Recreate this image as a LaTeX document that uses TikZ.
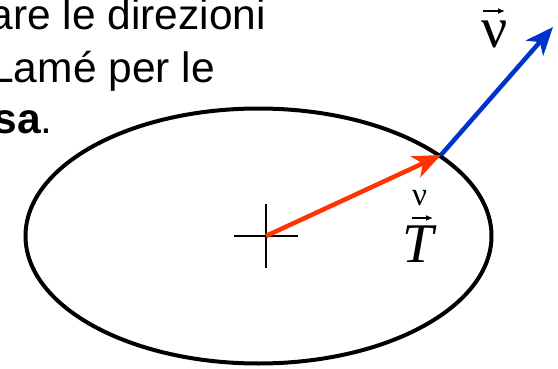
\RequirePackage{fix-cm}
\documentclass[tikz,border=0pt]{standalone}
\usepackage{fontspec}
\setmainfont{Liberation Sans}
\newfontfamily\tms{Liberation Serif}
\usetikzlibrary{arrows.meta}
\definecolor{tracred}{HTML}{FF3300}
\definecolor{normblue}{HTML}{0033CC}
\tikzset{
	vecarrow/.style = {line width=4.5pt, -{Stealth[length=28pt,width=23pt,inset=8pt]}},
	heading/.style = {anchor=base east, inner sep=0pt, font=\fontsize{42.5}{51}\selectfont},
	lbl/.style = {anchor=base, inner sep=0pt},
	accent/.style = {line width=1.4pt, -{Latex[length=7pt,width=6pt]}}
}
\begin{document}
\begin{tikzpicture}[x=1pt,y=1pt]
	\useasboundingbox (0,0) rectangle (558,368);
	\clip (0,0) rectangle (558,368);
	\node [heading] (line1) at (266,338) {are le direzioni};
	\node [heading] (line2) at (215,286) {Lamé per le};
	\node [heading] (line3) at (53,235) {\textbf{sa}.};
	\draw [line width=4pt] (258.5,132) ellipse [x radius=233, y radius=127.5];
	\coordinate (O) at (266,132);
	\coordinate (P) at (441,213);
	\coordinate (Q) at (553,341);
	\draw [line width=1.6pt] (O) ++(-32,0) -- ++(64,0);
	\draw [line width=1.6pt] (O) ++(0,-32) -- ++(0,64);
	\draw [vecarrow, tracred] (O) -- (P);
	\draw [vecarrow, normblue] (P) -- (Q);
	% labels
	\node [lbl, font=\fontsize{58}{60}\selectfont] (nu) at (495,321) {\tms ν};
	\draw [accent] ([shift={(-12,36)}]nu.base) -- ++(22,0);
	\node [lbl, font=\fontsize{33}{36}\selectfont] (nusmall) at (419.5,163) {\tms ν};
	\node [lbl, font=\fontsize{56}{60}\selectfont] (T) at (418,106) {\tms\itshape T};
	\draw [accent] ([shift={(-6,44)}]T.base) -- ++(21,0);
\end{tikzpicture}
\end{document}
